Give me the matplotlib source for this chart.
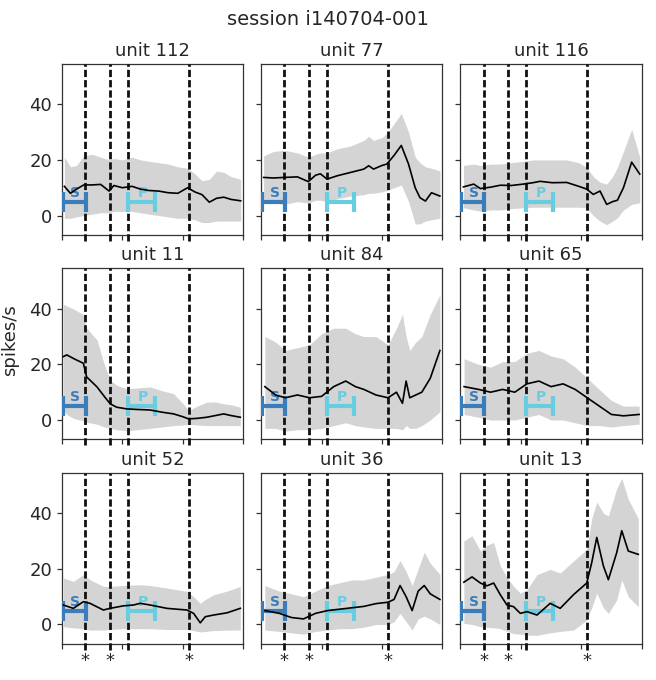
import numpy as np
import matplotlib.pyplot as plt

units = [112, 77, 116, 11, 84, 65, 52, 36, 13]

# time axis (ms) and event markers
events = [192, 395, 545, 1050]
starred = [192, 395, 1050]
s_bar = (5, 197)
p_bar = (545, 767)

t_112 = [20, 70, 120, 180, 250, 320, 390, 430, 500, 580, 650, 720, 800, 880, 960, 1040, 1100, 1160, 1220, 1280, 1340, 1400, 1480]
mean_112 = [10.5, 8.0, 9.5, 11.0, 11.0, 11.2, 8.8, 10.8, 10.0, 10.5, 9.5, 9.0, 8.8, 8.2, 8.0, 10.0, 8.5, 7.5, 4.8, 6.2, 6.6, 5.8, 5.3]
hi_112 = [21, 17.5, 18, 21.5, 22, 21, 20, 20.5, 20, 21, 20, 19.5, 19, 18.5, 17.5, 17, 15, 12.5, 13, 16, 15.5, 14, 13]
lo_112 = [-1, -1, -0.5, 0, 0.5, 1, 1, 1.5, 1.5, 1.5, 1.0, 0.5, 0, -0.5, -1, -1, -1.5, -2.5, -2.5, -2, -2, -2, -2]

t_77 = [20, 100, 190, 300, 390, 450, 490, 545, 630, 740, 850, 890, 930, 1000, 1040, 1100, 1160, 1220, 1275, 1315, 1360, 1410, 1480]
mean_77 = [13.7, 13.5, 13.7, 13.9, 12.2, 14.5, 15, 13.1, 14.3, 15.5, 16.7, 17.9, 16.7, 18, 18.5, 21.6, 25.2, 18.5, 10, 6.4, 5.2, 8.2, 7]
hi_77 = [21.5, 23, 23.5, 22.5, 21, 22, 22.5, 22.5, 24, 25, 27, 28.5, 27, 28, 29.5, 33, 36.7, 30, 21, 19, 17.5, 17, 16]
lo_77 = [5, 4.5, 4, 5, 4.5, 5.5, 5.5, 5, 6, 7, 7.5, 8, 8, 8.5, 9, 10, 11, 5, -3, -3, -2, -1.5, -1]

t_116 = [25, 110, 165, 250, 330, 420, 520, 600, 660, 760, 880, 980, 1046, 1100, 1156, 1211, 1260, 1300, 1350, 1418, 1485]
mean_116 = [10.3, 11.3, 9.7, 10.2, 10.9, 10.8, 11.3, 11.8, 12.3, 11.8, 11.9, 10.5, 9.5, 7.6, 8.8, 4.0, 5.0, 5.5, 10, 19.2, 14.9]
hi_116 = [18, 18.5, 18, 18.5, 18.5, 19, 19.5, 20, 20, 20, 20, 19, 17.3, 14, 12, 11.3, 14, 17.3, 23, 31, 21]
lo_116 = [2.8, 2, 1.6, 2, 2, 2.5, 2.8, 3, 3, 3, 3, 3, 2.8, 0, -2, -3.3, -2, -0.8, 2, 4, 4.6]

t_11 = [11, 40, 100, 177, 204, 290, 350, 400, 453, 536, 620, 730, 830, 924, 1000, 1049, 1120, 1200, 1270, 1339, 1400, 1477]
mean_11 = [22.8, 23.4, 22, 20.4, 15.5, 11.9, 8.5, 5.8, 4.6, 4.0, 3.8, 3.6, 2.8, 2.2, 1.2, 0.4, 0.6, 1.0, 1.6, 2.2, 1.6, 1.0]
hi_11 = [41.6, 41, 39.8, 37.9, 33, 28.8, 20, 14.3, 12.5, 11.3, 11.5, 11.9, 10.5, 9.5, 6, 3.4, 5, 6.4, 6.5, 5.8, 5.5, 4.6]
lo_11 = [3.4, 2, 0.5, -0.2, -0.8, -1.5, -2.5, -3, -3.5, -3.9, -3.5, -3, -2.5, -2, -1.8, -1.5, -1.8, -2, -2, -2, -2, -2]

t_84 = [30, 120, 200, 300, 400, 500, 600, 700, 780, 850, 950, 1050, 1120, 1170, 1200, 1230, 1280, 1330, 1400, 1480]
mean_84 = [12, 9, 8, 9, 8, 8.5, 12, 14, 12, 11, 9, 8, 10, 6, 14, 8, 9, 10, 15, 25]
hi_84 = [30, 28, 25, 26, 27, 31, 33, 33, 31, 30, 30, 27, 33, 38, 30, 25, 28, 30, 38, 45]
lo_84 = [-3, -3, -4, -3.5, -3.5, -3, -2, -1, -2, -2.5, -3, -3, -3, -3.5, -2, -3, -3, -2, 0, 3]

t_65 = [30, 150, 250, 350, 450, 550, 650, 750, 850, 950, 1050, 1150, 1250, 1350, 1480]
mean_65 = [12, 11, 10, 11, 10, 13, 14, 12, 13, 11, 8, 5, 2, 1.5, 2]
hi_65 = [22, 20, 19, 21, 21, 24, 25, 23, 22, 19, 15, 11, 7, 5, 5]
lo_65 = [2, 1, 0, 0, 0, 1, 2, 0, 0, -1, -2, -2, -2.5, -2, -1.5]

t_52 = [11, 94, 177, 232, 343, 398, 509, 592, 647, 730, 869, 1035, 1090, 1145, 1187, 1256, 1367, 1477]
mean_52 = [7, 5.8, 8.2, 7.6, 5.2, 5.8, 6.7, 7, 7.6, 7, 5.8, 5.2, 4, 0.6, 2.8, 3.4, 4.2, 5.8]
hi_52 = [16.7, 15.5, 17.9, 16.1, 13.7, 13.7, 14, 14.2, 14.3, 14, 13.1, 11.9, 10, 7.6, 9, 10.7, 12, 13.7]
lo_52 = [-0.8, -1.2, -1.5, -2, -2, -1.8, -1.5, -1.5, -1.5, -1.5, -1.8, -1.8, -2.2, -2.7, -2.5, -2.2, -2, -2]

t_36 = [30, 150, 250, 350, 450, 550, 650, 750, 850, 950, 1050, 1100, 1150, 1200, 1250, 1300, 1350, 1400, 1480]
mean_36 = [5, 4, 2.5, 2, 4, 5, 5.5, 6, 6.5, 7.5, 8, 9, 14, 10, 5, 12, 14, 11, 9]
hi_36 = [14, 12, 11, 10, 12, 14, 15, 16, 16, 17, 18, 19, 23, 19, 14, 20, 26, 22, 18]
lo_36 = [-2, -2.5, -3, -3.5, -2.5, -2, -1.5, -1.5, -1, 0, 0, 1, 4, 1, -2, 2, 3, 2, 0]

t_13 = [28, 96, 165, 220, 275, 330, 385, 440, 496, 551, 634, 743, 826, 936, 1046, 1087, 1129, 1184, 1225, 1294, 1336, 1390, 1473]
mean_13 = [15.2, 17.1, 14.9, 13.9, 14.9, 10.7, 7, 6.4, 4, 4.6, 3.4, 7.6, 5.8, 10.7, 14.9, 22.2, 31.3, 21, 16.1, 25.8, 33.7, 26.4, 25.2]
hi_13 = [30, 31.9, 26.4, 28.5, 29.5, 21, 17, 13.7, 11.3, 12.5, 17.9, 19.8, 18.5, 22.8, 27, 38, 44, 40, 39, 48.8, 52.5, 45, 38]
lo_13 = [0.4, 0, -0.8, -1, -1.2, -1.5, -2.5, -3.3, -3.5, -3.8, -3.9, -3, -2.5, -2, 1.6, 6, 11.3, 6, 4, 8.8, 16, 10, 6.4]

panels = [
    (t_112, mean_112, hi_112, lo_112),
    (t_77, mean_77, hi_77, lo_77),
    (t_116, mean_116, hi_116, lo_116),
    (t_11, mean_11, hi_11, lo_11),
    (t_84, mean_84, hi_84, lo_84),
    (t_65, mean_65, hi_65, lo_65),
    (t_52, mean_52, hi_52, lo_52),
    (t_36, mean_36, hi_36, lo_36),
    (t_13, mean_13, hi_13, lo_13),
]

s_color = '#3b7dbb'
p_color = '#68cde0'
dark = '#333333'

plt.rcParams['font.family'] = 'DejaVu Sans'
fig, axes = plt.subplots(3, 3, figsize=(6.56, 6.80), dpi=100, sharex=True, sharey=True)
fig.subplots_adjust(left=0.0945, right=0.978, top=0.906, bottom=0.053, wspace=0.1, hspace=0.195)

for k, ax in enumerate(axes.flat):
    t, m, hi, lo = panels[k]
    ax.fill_between(t, lo, hi, color='#d4d4d4', lw=0)
    for e in events:
        ax.axvline(e, ymin=-0.035, ymax=1, color='#111111', lw=2, dashes=(2.6, 1.1), clip_on=False, zorder=3)
    for (a, b), c, lab in [(s_bar, s_color, 'S'), (p_bar, p_color, 'P')]:
        ax.errorbar((a + b) / 2, 5, xerr=(b - a) / 2, fmt='none', ecolor=c, elinewidth=3,
                    capsize=7.5, capthick=3, zorder=4)
        ax.text((a + b) / 2 + 10, 5.6, lab, color=c, fontsize=10, fontweight='bold',
                ha='center', va='bottom', zorder=4)
    ax.plot(t, m, color='black', lw=1.2, zorder=5)
    ax.set_title('unit %d' % units[k], fontsize=13, color='#262626')
    for sp in ax.spines.values():
        sp.set_color(dark)
        sp.set_linewidth(0.9)
    ax.tick_params(colors=dark, labelcolor='#262626', labelsize=13, length=3.5, width=0.9)
    ax.tick_params(axis='x', labelbottom=False)

ax0 = axes[0, 0]
ax0.set_xlim(0, 1500)
ax0.set_xticks([0, 500, 1000, 1500])
ax0.set_ylim(-7, 54.5)
ax0.set_yticks([0, 20, 40])

for ax in axes[2]:
    for e in starred:
        ax.text(e, -0.045, '*', transform=ax.get_xaxis_transform(), ha='center', va='top',
                fontsize=13, color='#262626')

fig.text(0.016, 0.5, 'spikes/s', rotation=90, va='center', ha='center', fontsize=13, color='#262626')
fig.suptitle('session i140704-001', fontsize=14, y=0.985, color='#262626')

fig.savefig('out.png', dpi=100)
